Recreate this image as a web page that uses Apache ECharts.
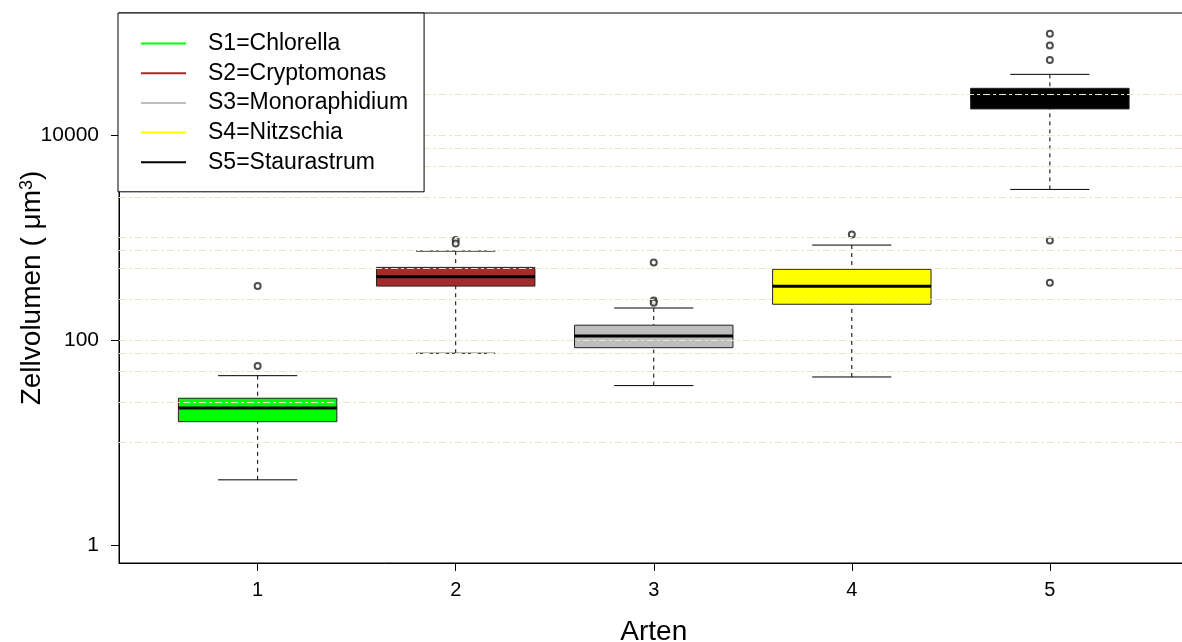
<!DOCTYPE html>
<html>
<head>
<meta charset="utf-8">
<script src="https://cdn.jsdelivr.net/npm/echarts@6/dist/echarts.min.js"></script>
<style>
  html, body { margin: 0; padding: 0; background: #ffffff; }
  #chart { width: 1182px; height: 642px; }
</style>
</head>
<body>
<div id="chart"></div>
<script>
// Cell volume per species (µm³), one box per species
const categories = ['1', '2', '3', '4', '5'];
const speciesNames = ['S1=Chlorella', 'S2=Cryptomonas', 'S3=Monoraphidium', 'S4=Nitzschia', 'S5=Staurastrum'];
const whiskerLow  = [4.33, 74.5, 36.0, 43.7, 2958];
const quartile1   = [16.0, 337, 84.4, 224, 18070];
const medians     = [21.7, 416, 110, 335, 23500];
const quartile3   = [27.1, 513, 140, 491, 28700];
const whiskerHigh = [45.0, 740, 206, 847, 39300];
const outliers = [
  [337, 56.0],
  [948, 880],
  [574, 244, 232],
  [1077],
  [98100, 75000, 54200, 941, 363]
];
const yTickValues = [1, 100, 10000];
const xTickValues = [1, 2, 3, 4, 5];
const referenceLevels = [10, 25, 50, 75, 100, 250, 500, 750, 1000, 2500, 5000, 7500, 10000, 25000];

const boxColors = ['#00ff00', '#a52a2a', '#bebebe', '#ffff00', '#000000'];
const FONT = '"Liberation Sans", Arial, sans-serif';

const boxData = categories.map((c, i) => [i + 1, whiskerLow[i], quartile1[i], medians[i], quartile3[i], whiskerHigh[i]]);
const outlierData = [];
outliers.forEach((list, i) => list.forEach(v => outlierData.push([i + 1, v])));

function renderBox(params, api) {
  const x = api.value(0);
  const lo = api.value(1), q1 = api.value(2), med = api.value(3), q3 = api.value(4), hi = api.value(5);
  const halfBox = 0.4, halfCap = 0.2;
  const c = (xx, yy) => api.coord([xx, yy]);
  const top = c(x, hi), q3p = c(x, q3), q1p = c(x, q1), bot = c(x, lo);
  const capL = c(x - halfCap, hi)[0], capR = c(x + halfCap, hi)[0];
  const boxL = c(x - halfBox, q3)[0], boxR = c(x + halfBox, q3)[0];
  const medY = c(x, med)[1];
  const dash = { stroke: '#000', lineWidth: 1, lineDash: [4, 4] };
  const solid = { stroke: '#000', lineWidth: 1 };
  return {
    type: 'group',
    children: [
      { type: 'line', shape: { x1: top[0], y1: top[1], x2: q3p[0], y2: q3p[1] }, style: dash },
      { type: 'line', shape: { x1: bot[0], y1: bot[1], x2: q1p[0], y2: q1p[1] }, style: dash },
      { type: 'line', shape: { x1: capL, y1: top[1], x2: capR, y2: top[1] }, style: solid },
      { type: 'line', shape: { x1: capL, y1: bot[1], x2: capR, y2: bot[1] }, style: solid },
      { type: 'rect', shape: { x: boxL, y: q3p[1], width: boxR - boxL, height: q1p[1] - q3p[1] },
        style: { fill: boxColors[params.dataIndex], stroke: '#222', lineWidth: 1 } },
      { type: 'line', shape: { x1: boxL, y1: medY, x2: boxR, y2: medY }, style: { stroke: '#000', lineWidth: 3 } }
    ]
  };
}

const chart = echarts.init(document.getElementById('chart'));
chart.setOption({
  animation: false,
  backgroundColor: '#ffffff',
  textStyle: { fontFamily: FONT },
  grid: {
    left: 119, top: 13, width: 1069.5, height: 550,
    outerBoundsMode: 'none', containLabel: false,
    show: true, borderColor: '#000', borderWidth: 1, backgroundColor: '#fff'
  },
  legend: {
    orient: 'vertical', left: 118, top: 13,
    data: speciesNames,
    icon: 'rect', itemWidth: 45, itemHeight: 2, itemGap: 6.7,
    padding: [19, 16, 18, 23],
    backgroundColor: '#fff', borderColor: '#000', borderWidth: 1, borderRadius: 0,
    textStyle: { fontSize: 23, color: '#000', fontFamily: FONT, lineHeight: 23, padding: [0, 0, 0, 17] },
    selectedMode: false, z: 10
  },
  xAxis: {
    type: 'value', min: 0.3, max: 5.7,
    axisLine: { show: true, onZero: false, lineStyle: { color: '#000', width: 1 } },
    axisTick: { show: true, length: 8, customValues: xTickValues, lineStyle: { color: '#000' } },
    axisLabel: { customValues: xTickValues, fontSize: 20, color: '#000', margin: 17, fontFamily: FONT,
                 formatter: v => categories[Math.round(v) - 1] },
    splitLine: { show: false },
    name: 'Arten', nameLocation: 'middle', nameGap: 55, nameMoveOverlap: false,
    nameTextStyle: { fontSize: 28, color: '#000', fontFamily: FONT }
  },
  yAxis: {
    type: 'log', logBase: 10, min: 0.668, max: 156000,
    axisLine: { show: true, onZero: false, lineStyle: { color: '#000', width: 1 } },
    axisTick: { show: true, length: 8, customValues: yTickValues, lineStyle: { color: '#000' } },
    axisLabel: { customValues: yTickValues, fontSize: 21, color: '#000', margin: 20, fontFamily: FONT,
                 formatter: v => String(Math.round(v)) },
    splitLine: { show: false },
    name: 'Zellvolumen ( μm{sup|3})', nameLocation: 'middle', nameGap: 73, nameRotate: 90, nameMoveOverlap: false,
    nameTextStyle: { fontSize: 28, color: '#000', fontFamily: FONT,
      rich: { sup: { fontSize: 18, verticalAlign: 'top', color: '#000', fontFamily: FONT } } }
  },
  series: [
    {
      type: 'custom', name: 'boxes', z: 2,
      renderItem: renderBox,
      encode: { x: 0, y: [1, 2, 3, 4, 5] },
      data: boxData
    },
    {
      type: 'scatter', name: 'outliers', z: 3,
      symbol: 'emptyCircle', symbolSize: 6,
      itemStyle: { color: '#222', borderColor: '#222', borderWidth: 0.9 },
      data: outlierData,
      markLine: {
        silent: true, symbol: ['none', 'none'], label: { show: false }, z: 5,
        lineStyle: { color: '#eee3c6', width: 1, type: [7, 3, 3, 3] },
        emphasis: { disabled: true },
        data: referenceLevels.map(v => ({ yAxis: v }))
      }
    }
  ].concat(speciesNames.map((n, i) => ({
    type: 'line', name: n, data: [], color: boxColors[i], symbol: 'none'
  })))
});
</script>
</body>
</html>
